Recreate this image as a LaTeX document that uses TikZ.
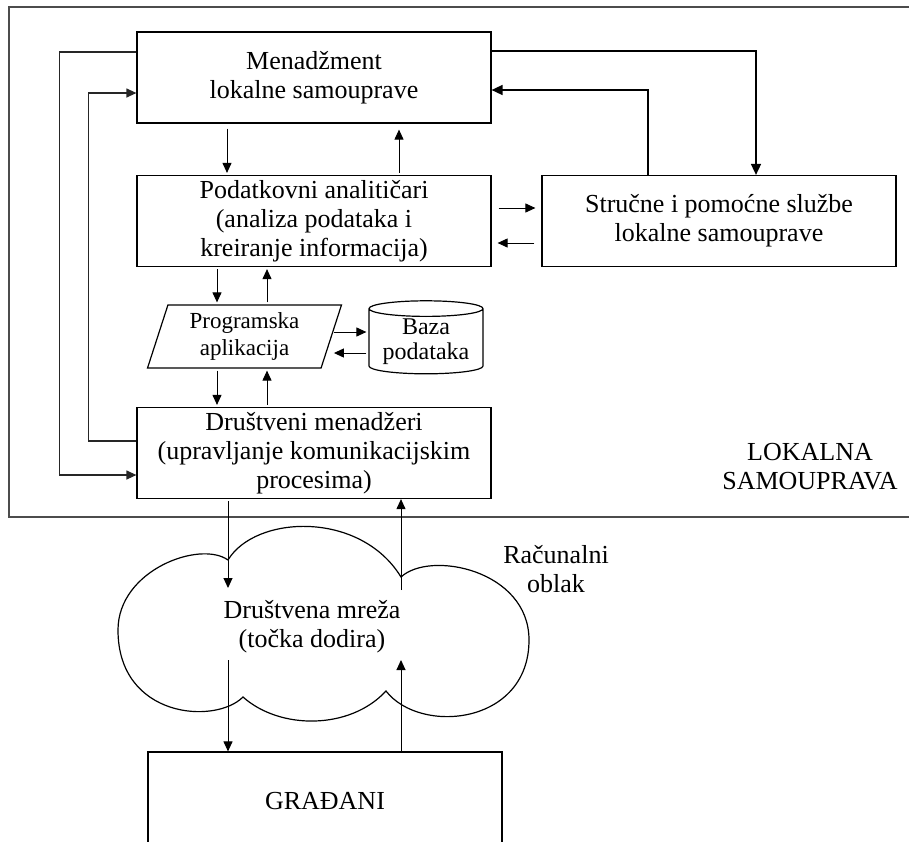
\documentclass[tikz,border=0pt]{standalone}
\usepackage{fontspec}
\setmainfont{Liberation Serif}
\usepackage{tikz}
\usetikzlibrary{shapes.geometric,arrows.meta,positioning,calc}
\tikzset{
  flowbox/.style={rectangle, draw=black, line width=0.6pt, align=center,
                  inner sep=0pt, minimum width=177pt, minimum height=45.5pt,
                  font=\fontsize{13}{14.5}\selectfont},
  progbox/.style={trapezium, trapezium left angle=73, trapezium right angle=107,
                  trapezium stretches=true, draw=black, line width=0.6pt, align=center,
                  inner sep=0pt, minimum width=97.5pt, minimum height=31.5pt,
                  font=\fontsize{11.5}{13.5}\selectfont},
  dbbox/.style={cylinder, shape border rotate=90, aspect=0.18, draw=black,
                line width=0.6pt, align=center, inner sep=0pt,
                minimum width=57pt, minimum height=36.5pt,
                font=\fontsize{12}{12.5}\selectfont},
  plaintext/.style={align=center, inner sep=0pt, font=\fontsize{13}{14.5}\selectfont},
  flowarr/.style={-{Triangle[length=5pt,width=4.5pt]}, line width=0.5pt,
                  shorten <=1pt, shorten >=1pt},
  gaparr/.style={flowarr, shorten <=3.5pt, shorten >=3pt},
  looparr/.style={-{Triangle[length=5pt,width=4.5pt]}, line width=0.6pt, draw=black!85},
  sidearr/.style={-{Triangle[length=5.5pt,width=5pt]}, line width=0.8pt},
  cloudline/.style={draw=black, line width=0.6pt},
}
\begin{document}
\begin{tikzpicture}[x=0.5pt,y=-0.5pt]
  \useasboundingbox (0,0) rectangle (909,841);
  % lokalna samouprava frame
  \draw[draw=black!70, line width=0.75pt] (9,7) rectangle (915,517);
  \node[plaintext] (ls) at (810,467) {LOKALNA\\SAMOUPRAVA};

  \node[flowbox] (men)  at (314,77.5) {Menadžment\\lokalne samouprave};
  \node[flowbox] (pod)  at (314,221)  {Podatkovni analitičari\\(analiza podataka i\\kreiranje informacija)};
  \node[flowbox] (str)  at (719,221)  {Stručne i pomoćne službe\\lokalne samouprave};
  \node[progbox] (prog) at (244.5,336.5) {Programska\\aplikacija};
  \node[dbbox]   (baza) at (426,341.5) {Baza\\podataka};
  \node[flowbox] (drus) at (314,453) {Društveni menadžeri\\(upravljanje komunikacijskim\\procesima)};

  % racunalni oblak
  \draw[cloudline] (228,560) .. controls (255,515) and (360,510) .. (401,577)
    .. controls (430,550) and (529,570) .. (529,640)
    .. controls (529,725) and (420,735) .. (386,691)
    .. controls (350,730) and (280,730) .. (243,697)
    .. controls (215,725) and (118,718) .. (118,630)
    .. controls (118,570) and (200,540) .. cycle;
  \node[plaintext] (mreza) at (312,627) {Društvena mreža\\(točka dodira)};
  \node[plaintext] (racun) at (556,569) {Računalni\\oblak};

  \node[flowbox, minimum height=49pt] (grad) at (325,801) {GRAĐANI};

  \coordinate (m1) at (228,588);
  \coordinate (m2) at (401,590);
  \coordinate (m3) at (228,660);
  \coordinate (m4) at (401,660);

  \draw[flowarr, shorten <=2.5pt] ([xshift=-43.5pt]men.south) -- ([xshift=-43.5pt]pod.north);
  \draw[flowarr, shorten >=3pt] ([xshift=42.5pt]pod.north) -- ([xshift=42.5pt]men.south);
  \draw[gaparr] ([yshift=6.5pt]pod.east) -- ([yshift=6.5pt]str.west);
  \draw[gaparr] ([yshift=-11pt]str.west) -- ([yshift=-11pt]pod.east);
  \draw[flowarr] ([xshift=-48.5pt]pod.south) -- ([xshift=-48.5pt]pod.south |- prog.north);
  \draw[flowarr] ([xshift=-23.5pt]pod.south |- prog.north) -- ([xshift=-23.5pt]pod.south);
  \draw[flowarr] ([yshift=2.25pt]prog.east) -- ([yshift=2.25pt]prog.east -| baza.west);
  \draw[flowarr] ([yshift=-8.25pt]prog.east -| baza.west) -- ([yshift=-8.25pt]prog.east);
  \draw[flowarr] ([xshift=-48.5pt]drus.north |- prog.south) -- ([xshift=-48.5pt]drus.north);
  \draw[flowarr] ([xshift=-23.5pt]drus.north) -- ([xshift=-23.5pt]drus.north |- prog.south);
  \draw[looparr] ([yshift=12.75pt]men.west) -- ++(-77,0) |- ([yshift=-11pt]drus.west);
  \draw[looparr] ([yshift=6pt]drus.west) -- ++(-48,0) |- ([yshift=-7.75pt]men.west);
  \draw[sidearr] ([yshift=13.25pt]men.east) -| ([xshift=18.5pt]str.north);
  \draw[sidearr] ([xshift=-35.5pt]str.north) |- ([yshift=-6.25pt]men.east);
  \draw[flowarr, shorten >=0pt] (drus.south -| m1) -- (m1);
  \draw[flowarr, shorten <=0pt, shorten >=0pt] (m2) -- (drus.south -| m2);
  \draw[flowarr, shorten <=0pt, shorten >=0pt] (m3) -- (grad.north -| m3);
  \draw[flowarr, shorten <=0pt, shorten >=0pt] (grad.north -| m4) -- (m4);
\end{tikzpicture}
\end{document}
